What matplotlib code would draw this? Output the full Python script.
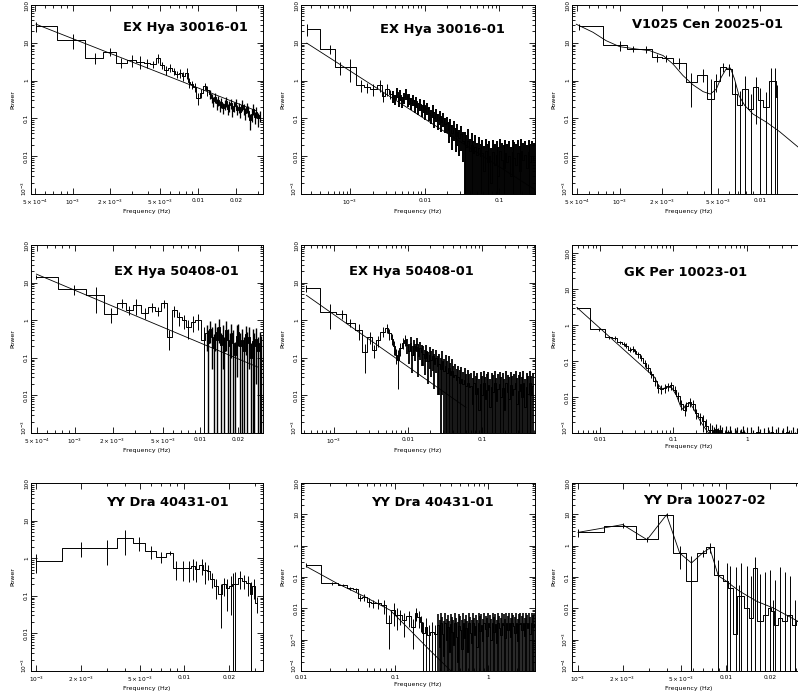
import numpy as np
import matplotlib
matplotlib.use("Agg")
import matplotlib.pyplot as plt
from matplotlib.ticker import FixedLocator, FixedFormatter, LogLocator, NullFormatter
from matplotlib.transforms import ScaledTranslation

plt.rcParams["font.family"] = "DejaVu Sans"
plt.rcParams["mathtext.default"] = "regular"

# ---------------------------------------------------------------
# data (frequency in Hz, power)
# f/p/e : binned points with errors, tp/te : dense tail, m* : model
# ---------------------------------------------------------------

# EX Hya 30016-01 (low frequency)
f1 = [5.1e-4, 1.0e-3, 1.5e-3, 2.0e-3, 2.45e-3, 2.95e-3, 3.45e-3, 3.9e-3, 4.4e-3,
      4.8e-3, 5.2e-3, 5.6e-3, 6.0e-3, 6.4e-3, 6.8e-3, 7.2e-3, 7.6e-3, 8.1e-3,
      8.5e-3, 8.9e-3, 9.4e-3, 1.0e-2, 1.06e-2, 1.13e-2, 1.19e-2]
p1 = [27, 12, 4.0, 5.8, 3.0, 3.5, 3.2, 2.9, 2.7, 4.0, 2.6, 1.9, 2.2, 1.8, 1.5,
      1.6, 1.3, 1.6, 0.9, 0.8, 0.68, 0.35, 0.47, 0.7, 0.55]
e1 = [8, 5, 1.3, 1.4, 0.9, 1.2, 1.2, 0.8, 0.6, 1.0, 0.6, 0.5, 0.5, 0.4, 0.35,
      0.4, 0.35, 0.5, 0.25, 0.2, 0.18, 0.12, 0.12, 0.15, 0.15]
tail1 = (1.25e-2, 3.1e-2)
tp1 = [0.45, 0.35, 0.28, 0.36, 0.25, 0.30, 0.22, 0.27, 0.19, 0.24, 0.28, 0.18,
       0.22, 0.25, 0.16, 0.21, 0.26, 0.17, 0.20, 0.15, 0.23, 0.18, 0.14, 0.20,
       0.16, 0.09, 0.13, 0.18, 0.11, 0.15, 0.10, 0.12]
te1 = [0.12, 0.1, 0.08, 0.1, 0.08, 0.09, 0.07, 0.08, 0.06, 0.07, 0.08, 0.06,
       0.07, 0.07, 0.05, 0.06, 0.07, 0.05, 0.06, 0.05, 0.07, 0.06, 0.05, 0.06,
       0.05, 0.04, 0.05, 0.06, 0.04, 0.05, 0.04, 0.04]
m1f = [5.1e-4, 0.029]
m1p = [31, 0.16]

# EX Hya 30016-01 (full range)
f2 = [2.63e-4, 5.3e-4, 7.4e-4, 1.0e-3, 1.4e-3, 1.67e-3, 2.05e-3, 2.5e-3, 2.8e-3,
      3.1e-3, 3.45e-3]
p2 = [23, 6.9, 2.3, 2.3, 0.76, 0.66, 0.6, 0.76, 0.39, 0.6, 0.44]
e2 = [8, 1.8, 0.9, 1.4, 0.25, 0.2, 0.2, 0.25, 0.12, 0.2, 0.12]
tail2 = (3.8e-3, 0.29)
tp2 = [0.39, 0.32, 0.50, 0.30, 0.42, 0.28, 0.36, 0.45, 0.30, 0.34,
       0.26, 0.31, 0.22, 0.28, 0.19, 0.24, 0.17, 0.22, 0.15, 0.19,
       0.14, 0.12, 0.16, 0.10, 0.13, 0.09, 0.11, 0.08, 0.10, 0.07,
       0.075, 0.05, 0.065, 0.04, 0.055, 0.035, 0.045, 0.03, 0.038, 0.025,
       0.022, 0.018, 0.026, 0.014, 0.02, 0.012, 0.018, 0.011, 0.016, 0.01,
       0.012, 0.004, 0.014, 0.007, 0.010, 0.002, 0.013, 0.006, 0.011, 0.003,
       0.014, 0.008, 0.005, 0.012, 0.007, 0.010, 0.003, 0.013, 0.009, 0.006,
       0.012, 0.004, 0.014, 0.008, 0.011, 0.005, 0.013, 0.007, 0.010, 0.008]
te2 = [0.13, 0.1, 0.15, 0.1, 0.13, 0.09, 0.12, 0.14, 0.1, 0.11,
       0.09, 0.1, 0.08, 0.09, 0.07, 0.08, 0.06, 0.08, 0.06, 0.07,
       0.055, 0.05, 0.06, 0.045, 0.05, 0.04, 0.045, 0.035, 0.04, 0.03,
       0.035, 0.028, 0.032, 0.025, 0.03, 0.022, 0.026, 0.02, 0.024, 0.018,
       0.023, 0.019, 0.027, 0.015, 0.021, 0.013, 0.019, 0.012, 0.017, 0.011] + [0.0145] * 30
m2f = [2.63e-4, 0.3]
m2p = [9.8, 0.0013]

# V1025 Cen 20025-01
f3 = [5.1e-4, 1.0e-3, 1.25e-3, 1.55e-3, 1.85e-3, 2.15e-3, 2.65e-3, 3.25e-3, 3.9e-3,
      4.45e-3, 4.9e-3, 5.47e-3, 6.0e-3, 6.6e-3, 7.2e-3, 7.8e-3, 8.6e-3, 9.4e-3,
      1.01e-2, 1.11e-2, 1.21e-2, 1.28e-2, 1.33e-2]
p3 = [27, 8.5, 7.0, 6.9, 4.1, 4.0, 3.0, 0.9, 1.45, 0.33, 1.0, 2.25, 2.0, 0.44,
      0.23, 0.6, 0.18, 0.67, 0.3, 0.2, 1.0, 1.0, 0.36]
e3 = [5, 2.6, 1.2, 1.4, 0.9, 0.9, 1.0, 0.7, 0.55, 0.75, 0.5, 0.6, 0.7, 0.5, 0.3,
      0.75, 0.25, 0.6, 0.35, 0.3, 1.2, 1.1, 0.4]
m3f = [4.9e-4, 6.45e-4, 8.0e-4, 1.0e-3, 1.315e-3, 1.64e-3, 2.04e-3, 2.4e-3, 2.83e-3,
       3.34e-3, 3.94e-3, 4.44e-3, 4.9e-3, 5.3e-3, 5.78e-3, 6.17e-3, 6.6e-3, 7.1e-3,
       7.8e-3, 8.95e-3, 1.11e-2, 1.38e-2, 1.88e-2, 2.2e-2]
m3p = [31, 19, 11.4, 7.9, 6.85, 6.2, 4.6, 2.75, 1.36, 0.77, 0.51, 0.44, 0.6, 1.22,
       2.1, 2.15, 1.1, 0.40, 0.22, 0.13, 0.08, 0.045, 0.0173, 0.0118]

# EX Hya 50408-01 (low frequency)
f4 = [4.97e-4, 9.8e-4, 1.47e-3, 1.94e-3, 2.4e-3, 2.7e-3, 3.1e-3, 3.6e-3, 4.1e-3,
      4.6e-3, 5.1e-3, 5.66e-3, 6.2e-3, 6.8e-3, 7.4e-3, 8.0e-3, 8.7e-3, 9.5e-3, 1.06e-2]
p4 = [14, 6.6, 4.6, 1.45, 2.9, 1.85, 2.5, 1.6, 2.3, 1.8, 2.8, 0.36, 1.85, 1.2, 1.0,
      0.66, 0.9, 1.0, 0.29]
e4 = [1.8, 2.0, 3.0, 0.6, 0.8, 0.5, 1.1, 0.5, 0.6, 0.5, 0.7, 0.2, 0.6, 0.5, 0.4,
      0.35, 0.4, 0.45, 0.35]
tail4 = (1.12e-2, 3.05e-2)
tp4 = [0.45, 0.25, 0.60, 0.35, 0.18, 0.50, 0.30, 0.65, 0.22, 0.40, 0.15, 0.55,
       0.30, 0.20, 0.45, 0.25, 0.12, 0.38, 0.50, 0.20, 0.30, 0.15, 0.42, 0.25,
       0.35, 0.10, 0.28, 0.20, 0.32, 0.15, 0.25, 0.18]
te4 = [0.3, 0.3, 0.35, 0.3, 0.25, 0.35, 0.35, 0.4, 0.25, 0.35, 0.2, 0.4,
       0.3, 0.25, 0.35, 0.3, 0.15, 0.35, 0.3, 0.25, 0.3, 0.2, 0.3, 0.25,
       0.3, 0.15, 0.3, 0.25, 0.3, 0.2, 0.25, 0.2]
m4f = [4.97e-4, 0.0284]
m4p = [16.8, 0.057]

# EX Hya 50408-01 (full range)
f5 = [4.3e-4, 8.8e-4, 1.29e-3, 1.67e-3, 2.17e-3, 2.61e-3, 3.05e-3, 3.45e-3, 3.9e-3,
      4.6e-3, 5.2e-3, 5.6e-3, 6.1e-3, 6.5e-3, 6.96e-3, 7.4e-3, 7.9e-3, 8.5e-3, 9.2e-3]
p5 = [7.0, 1.67, 1.5, 0.85, 0.54, 0.14, 0.36, 0.16, 0.29, 0.5, 0.62, 0.45, 0.32,
      0.2, 0.12, 0.09, 0.18, 0.25, 0.30]
e5 = [1.5, 1.1, 0.4, 0.2, 0.25, 0.1, 0.12, 0.06, 0.1, 0.15, 0.15, 0.15, 0.1,
      0.08, 0.05, 0.075, 0.07, 0.08, 0.1]
tail5 = (9.8e-3, 0.48)
tp5 = [0.22, 0.15, 0.25, 0.12, 0.20, 0.16, 0.24, 0.11, 0.18, 0.14,
       0.13, 0.10, 0.15, 0.08, 0.12, 0.09, 0.11, 0.07, 0.10, 0.06,
       0.07, 0.05, 0.08, 0.045, 0.06, 0.04, 0.055, 0.035, 0.045, 0.03,
       0.035, 0.025, 0.03, 0.022, 0.028, 0.02, 0.025, 0.018, 0.022, 0.017,
       0.018, 0.006, 0.022, 0.011, 0.016, 0.004, 0.020, 0.010, 0.021, 0.008,
       0.014, 0.019, 0.005, 0.017, 0.012, 0.021, 0.007, 0.015, 0.020, 0.009,
       0.016, 0.004, 0.022, 0.012, 0.008, 0.019, 0.010, 0.015, 0.021, 0.006,
       0.013, 0.020, 0.009, 0.022, 0.005, 0.017, 0.011, 0.021, 0.010, 0.018]
te5 = [0.09, 0.08, 0.1, 0.08, 0.09, 0.08, 0.1, 0.08, 0.09, 0.08,
       0.07, 0.065, 0.075, 0.06, 0.07, 0.06, 0.065, 0.055, 0.06, 0.05,
       0.06, 0.05, 0.07, 0.046, 0.06, 0.041, 0.056, 0.036, 0.046, 0.031,
       0.035, 0.026, 0.032, 0.024, 0.03, 0.022, 0.027, 0.02, 0.024, 0.019] + [0.0225] * 40
m5f = [4.3e-4, 0.06]
m5p = [4.6, 0.0048]

# GK Per 10023-01
f6 = [4.9e-3, 9.8e-3, 0.0135, 0.016, 0.0187, 0.021, 0.023, 0.0255, 0.028, 0.030,
      0.033, 0.0367, 0.0408, 0.0453, 0.0503, 0.0558, 0.062, 0.0687, 0.0762, 0.0846,
      0.0939, 0.104, 0.116, 0.128, 0.142, 0.150, 0.166, 0.185, 0.205, 0.228, 0.253,
      0.28, 0.31]
p6 = [3.1, 0.77, 0.46, 0.44, 0.33, 0.30, 0.27, 0.21, 0.22, 0.19, 0.155, 0.125, 0.09,
      0.066, 0.043, 0.028, 0.018, 0.017, 0.018, 0.02, 0.021, 0.016, 0.011, 0.0063,
      0.0045, 0.0057, 0.0073, 0.0063, 0.0036, 0.0027, 0.0021, 0.0016, 0.0012]
e6 = [0.2, 0.08, 0.05, 0.05, 0.04, 0.04, 0.04, 0.03, 0.04, 0.03, 0.03, 0.025, 0.02,
      0.015, 0.01, 0.008, 0.005, 0.005, 0.005, 0.005, 0.005, 0.004, 0.003, 0.002,
      0.0015, 0.0015, 0.002, 0.002, 0.0012, 0.001, 0.001, 0.0008, 0.0007]
tail6 = (0.33, 5.8)
tp6 = [0.0012, 0.0010, 0.0013, 0.0009, 0.0012, 0.0010, 0.0004, 0.0011, 0.0007, 0.0011,
       0.0005, 0.0009, 0.0010, 0.0004, 0.0008, 0.0011, 0.0006, 0.0009, 0.0004, 0.0010,
       0.0007, 0.0004, 0.0011, 0.0008, 0.0005, 0.0009, 0.0004, 0.0010, 0.0006, 0.0011,
       0.0004, 0.0008, 0.0010, 0.0005, 0.0009, 0.0004, 0.0011, 0.0007, 0.0004, 0.0010,
       0.0006, 0.0009, 0.0004, 0.0011, 0.0008]
te6 = 0.0005
m6f = [4.9e-3, 0.0558, 0.062, 0.07, 0.085, 0.095, 0.11, 0.125, 0.135, 0.15, 0.165,
       0.185, 0.21, 0.24, 0.28, 0.3]
m6p = [3.1, 0.035, 0.022, 0.017, 0.019, 0.018, 0.011, 0.0055, 0.0045, 0.0065, 0.0068,
       0.005, 0.003, 0.0019, 0.0012, 0.001]

# YY Dra 40431-01 (low frequency)
f7 = [1.0e-3, 2.0e-3, 3.0e-3, 3.98e-3, 4.97e-3, 5.94e-3, 6.96e-3, 8.0e-3, 8.74e-3,
      9.74e-3, 1.08e-2, 1.15e-2, 1.21e-2, 1.31e-2, 1.38e-2, 1.45e-2, 1.55e-2, 1.65e-2,
      1.76e-2, 1.86e-2, 1.95e-2, 2.08e-2, 2.15e-2, 2.22e-2, 2.37e-2, 2.52e-2, 2.7e-2,
      2.84e-2, 2.95e-2, 3.1e-2]
p7 = [0.85, 1.85, 1.85, 3.4, 2.6, 1.57, 1.1, 1.4, 0.56, 0.55, 0.54, 0.62, 0.53, 0.65,
      0.5, 0.46, 0.28, 0.18, 0.11, 0.2, 0.16, 0.18, 0.2, 0.2, 0.3, 0.25, 0.22, 0.11,
      0.18, 0.065]
e7 = [0.45, 0.8, 1.2, 2.2, 1.0, 0.6, 0.35, 0.2, 0.3, 0.3, 0.3, 0.35, 0.3, 0.3, 0.3,
      0.2, 0.12, 0.1, 0.096, 0.1, 0.12, 0.15, 0.21, 0.22, 0.15, 0.1, 0.12, 0.12, 0.1,
      0.03]

# YY Dra 40431-01 (full range)
f8 = [0.0113, 0.0213, 0.0278, 0.0333, 0.038, 0.042, 0.047, 0.0524, 0.058, 0.0652,
      0.0757, 0.0855, 0.0967, 0.105, 0.112, 0.1256, 0.14, 0.158, 0.168, 0.179, 0.19,
      0.2, 0.215, 0.229, 0.248, 0.27]
p8 = [0.245, 0.063, 0.056, 0.043, 0.04, 0.022, 0.023, 0.016, 0.0144, 0.0144, 0.0127,
      0.0033, 0.0088, 0.006, 0.006, 0.0042, 0.0055, 0.0025, 0.0069, 0.0053, 0.0037,
      0.0016, 0.0025, 0.0014, 0.0018, 0.0015]
e8 = [0.03, 0.006, 0.006, 0.005, 0.006, 0.005, 0.006, 0.005, 0.004, 0.005, 0.006,
      0.0028, 0.006, 0.004, 0.003, 0.003, 0.003, 0.002, 0.003, 0.003, 0.002, 0.002,
      0.0025, 0.0015, 0.002, 0.0015]
tail8 = (0.29, 3.1)
tp8 = [0.0030, 0.0006, 0.0034, 0.0015, 0.0003, 0.0033, 0.0010, 0.0025, 0.0004, 0.0031,
       0.0018, 0.0007, 0.0035, 0.0012, 0.0002, 0.0028, 0.0020, 0.0005, 0.0034, 0.0011,
       0.0024, 0.0004, 0.0033, 0.0016, 0.0008, 0.0035, 0.0014, 0.0027, 0.0006, 0.0034,
       0.0019, 0.0030, 0.0009, 0.0035, 0.0022, 0.0013, 0.0034, 0.0026, 0.0010, 0.0035,
       0.0017, 0.0032, 0.0008, 0.0035, 0.0023, 0.0014, 0.0034, 0.0029, 0.0011, 0.0035,
       0.0021, 0.0033, 0.0012, 0.0035, 0.0027, 0.0016, 0.0034, 0.0009, 0.0031, 0.0035,
       0.0020, 0.0033, 0.0013, 0.0035, 0.0024, 0.0034, 0.0015, 0.0035, 0.0026, 0.0032]
te8 = 0.0036
m8f = [0.0113, 0.024, 0.0463, 0.089, 0.1456, 0.238, 0.406]
m8p = [0.216, 0.063, 0.0245, 0.0087, 0.002, 4.5e-4, 9.4e-5]

# YY Dra 10027-02
f9 = [1.0e-3, 2.0e-3, 2.93e-3, 3.97e-3, 4.87e-3, 5.85e-3, 6.95e-3, 7.78e-3, 8.88e-3,
      1.01e-2, 1.07e-2, 1.17e-2, 1.22e-2, 1.27e-2, 1.38e-2, 1.47e-2, 1.57e-2, 1.7e-2,
      1.84e-2, 1.99e-2, 2.07e-2, 2.15e-2, 2.32e-2, 2.5e-2, 2.7e-2, 2.92e-2, 3.08e-2]
p9 = [2.66, 4.35, 1.6, 9.7, 0.58, 0.073, 0.58, 0.88, 0.119, 0.073, 0.044, 0.0015,
      0.024, 0.024, 0.01, 0.005, 0.2, 0.004, 0.006, 0.01, 0.008, 0.003, 0.005, 0.004,
      0.006, 0.003, 0.004]
e9 = [0.8, 0.8, 0.25, 1.5, 0.4, 0.39, 0.15, 0.3, 0.24, 0.21, 0.18, 0.2, 0.03, 0.26,
      0.22, 0.1, 0.25, 0.12, 0.14, 0.16, 0.01, 0.08, 0.2, 0.14, 0.1, 0.015, 0.006]
m9f = [1.0e-3, 1.48e-3, 2.0e-3, 2.93e-3, 3.97e-3, 4.87e-3, 5.85e-3, 6.95e-3, 7.78e-3,
       8.88e-3, 1.01e-2, 1.12e-2, 1.24e-2, 1.62e-2, 2.09e-2, 3.09e-2, 3.45e-2]
m9p = [2.66, 3.66, 4.7, 1.55, 9.7, 0.58, 0.28, 0.58, 0.84, 0.11, 0.073, 0.05, 0.035,
       0.0167, 0.0103, 0.0038, 0.0031]

titles = ["EX Hya 30016-01", "EX Hya 30016-01", "V1025 Cen 20025-01",
          "EX Hya 50408-01", "EX Hya 50408-01", "GK Per 10023-01",
          "YY Dra 40431-01", "YY Dra 40431-01", "YY Dra 10027-02"]

LAB = {1e-4: r"$10^{-4}$", 5e-4: r"$5\times10^{-4}$", 1e-3: r"$10^{-3}$",
       2e-3: r"$2\times10^{-3}$", 5e-3: r"$5\times10^{-3}$", 0.01: "0.01",
       0.02: "0.02", 0.1: "0.1", 1: "1", 10: "10", 100: "100"}

# ---------------------------------------------------------------
W, H = 798, 697
fig = plt.figure(figsize=(W / 100, H / 100), dpi=100)

cols = [(31, 263), (301, 535), (572, 805)]
rows = [(5, 194), (245, 433), (483, 671)]
lift = ScaledTranslation(0, 4 / 72, fig.dpi_scale_trans)


def panel(ix, f, p, e, tail=None, tp=None, te=None, mf=None, mp=None,
          xlim=None, ylim=(1e-3, 100), xt=(), tail_lw=0.7):
    (x0, x1), (y0, y1) = cols[ix % 3], rows[ix // 3]
    ax = fig.add_axes([x0 / W, 1 - y1 / H, (x1 - x0) / W, (y1 - y0) / H])
    ff = np.asarray(f, float)
    pp = np.asarray(p, float)
    ee = np.asarray(e, float)
    floor = ylim[0] / 10

    lo = np.where(pp - ee > 0, pp - ee, floor)
    ax.vlines(ff, lo, pp + ee, colors="k", lw=0.7)

    if tp is not None:
        tf = np.geomspace(tail[0], tail[1], len(tp))
        tpp = np.asarray(tp, float)
        tee = np.broadcast_to(np.asarray(te, float), (len(tp),))
        tlo = np.where(tpp - tee > 0, tpp - tee, floor)
        ax.vlines(tf, tlo, tpp + tee, colors="k", lw=tail_lw)
        ff = np.concatenate([ff, tf])
        pp = np.concatenate([pp, tpp])

    ax.step(ff, pp, where="mid", color="k", lw=0.7)
    if mf is not None:
        ax.plot(mf, mp, color="k", lw=0.6)

    ax.set_xscale("log")
    ax.set_yscale("log")
    ax.set_xlim(xlim)
    ax.set_ylim(ylim)

    ax.xaxis.set_major_locator(FixedLocator(list(xt)))
    ax.xaxis.set_major_formatter(FixedFormatter([LAB[v] for v in xt]))
    ax.xaxis.set_minor_locator(LogLocator(base=10, subs=np.arange(2, 10), numticks=30))
    ax.xaxis.set_minor_formatter(NullFormatter())
    yt = [v for v in [1e-4, 1e-3, 0.01, 0.1, 1, 10, 100] if ylim[0] <= v <= ylim[1] * 1.01]
    ax.yaxis.set_major_locator(FixedLocator(yt))
    ax.yaxis.set_major_formatter(FixedFormatter([LAB[v] for v in yt]))
    ax.yaxis.set_minor_locator(LogLocator(base=10, subs=np.arange(2, 10), numticks=30))
    ax.yaxis.set_minor_formatter(NullFormatter())

    ax.tick_params(which="both", direction="in", top=True, right=True,
                   labelsize=4.2, width=0.6)
    ax.tick_params(axis="x", pad=2.6)
    ax.tick_params(axis="y", pad=1.5, labelrotation=90)
    ax.tick_params(which="major", length=4)
    ax.tick_params(which="minor", length=2)
    ylabs = ax.get_yticklabels()
    for t in ylabs:
        t.set_verticalalignment("center")
    # bottom label sits a little above the corner, clear of the x labels
    ylabs[0].set_transform(ylabs[0].get_transform() + lift)
    for s in ax.spines.values():
        s.set_linewidth(0.7)

    ax.set_xlabel("Frequency (Hz)", fontsize=4.5, labelpad=1.5)
    ax.set_ylabel("Power", fontsize=4.5, labelpad=3)
    return ax


panel(0, f1, p1, e1, tail1, tp1, te1, m1f, m1p, xlim=(4.65e-4, 0.033),
      xt=(5e-4, 1e-3, 2e-3, 5e-3, 0.01, 0.02), tail_lw=0.9)
panel(1, f2, p2, e2, tail2, tp2, te2, m2f, m2p, xlim=(2.2e-4, 0.30),
      xt=(1e-3, 0.01, 0.1), tail_lw=1.4)
panel(2, f3, p3, e3, mf=m3f, mp=m3p, xlim=(4.57e-4, 0.021),
      xt=(5e-4, 1e-3, 2e-3, 5e-3, 0.01))
panel(3, f4, p4, e4, tail4, tp4, te4, m4f, m4p, xlim=(4.5e-4, 0.0314),
      xt=(5e-4, 1e-3, 2e-3, 5e-3, 0.01, 0.02), tail_lw=1.0)
panel(4, f5, p5, e5, tail5, tp5, te5, m5f, m5p, xlim=(3.64e-4, 0.51),
      xt=(1e-3, 0.01, 0.1), tail_lw=1.3)
panel(5, f6, p6, e6, tail6, tp6, te6, m6f, m6p, xlim=(4.2e-3, 6.1),
      ylim=(1e-3, 170), xt=(0.01, 0.1, 1), tail_lw=0.8)
panel(6, f7, p7, e7, xlim=(9.2e-4, 0.0341),
      xt=(1e-3, 2e-3, 5e-3, 0.01, 0.02))
panel(7, f8, p8, e8, tail8, tp8, te8, m8f, m8p, xlim=(0.0099, 3.15),
      ylim=(1e-4, 100), xt=(0.01, 0.1, 1), tail_lw=1.2)
panel(8, f9, p9, e9, mf=m9f, mp=m9p, xlim=(9.1e-4, 0.0343),
      ylim=(1e-4, 100), xt=(1e-3, 2e-3, 5e-3, 0.01, 0.02))

title_px = [(185, 28), (442, 29), (708, 25), (176, 272), (411, 272), (686, 273),
            (167, 502), (432, 502), (704, 500)]
for txt, (tx, ty) in zip(titles, title_px):
    fig.text(tx / W, 1 - ty / H, txt, ha="center", va="center",
             fontsize=9.4, fontweight="bold")

fig.savefig("out.png", dpi=100)
